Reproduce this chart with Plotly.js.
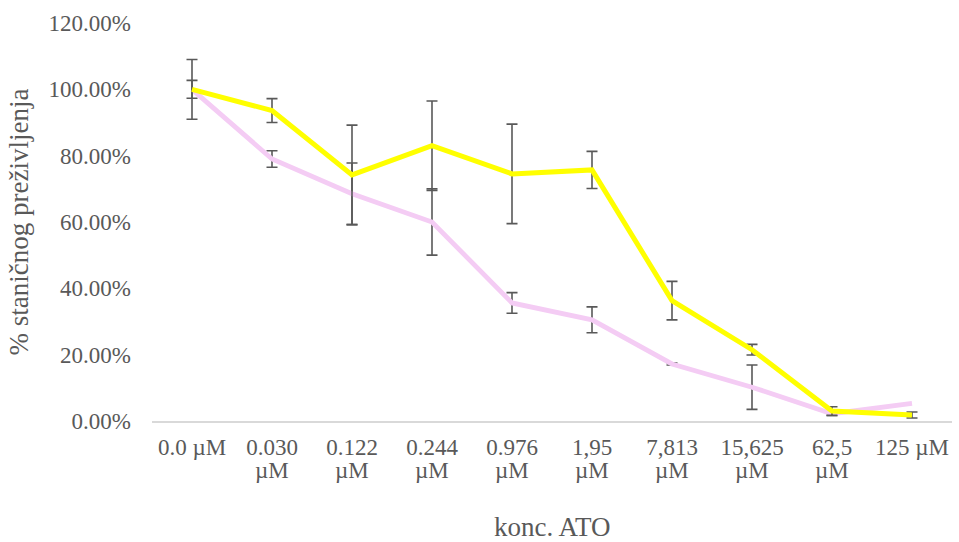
<!DOCTYPE html>
<html>
<head>
<meta charset="utf-8">
<script src="https://cdn.plot.ly/plotly-3.0.1.min.js"></script>
<style>html,body{margin:0;padding:0;background:#fff;}#chart{width:959px;height:542px;}</style>
</head>
<body>
<div id="chart"></div>
<script>
const categories = ['0.0 µM','0.030 µM','0.122 µM','0.244 µM','0.976 µM','1,95 µM','7,813 µM','15,625 µM','62,5 µM','125 µM'];
const tickLine1 = ['0.0 µM','0.030','0.122','0.244','0.976','1,95','7,813','15,625','62,5','125 µM'];
const tickLine2 = ['','µM','µM','µM','µM','µM','µM','µM','µM',''];
const yellowValues = [1.00, 0.936, 0.742, 0.830, 0.745, 0.757, 0.363, 0.215, 0.030, 0.018];
const yellowErrors = [0.090, 0.036, 0.150, 0.135, 0.150, 0.056, 0.058, 0.016, 0.013, 0.009];
const pinkValues = [1.00, 0.790, 0.685, 0.600, 0.356, 0.305, 0.172, 0.102, 0.022, 0.053];
const pinkErrors = [0.027, 0.025, 0.093, 0.100, 0.031, 0.039, 0.003, 0.067, 0.005, NaN];
const yTickVals = [0, 0.2, 0.4, 0.6, 0.8, 1.0, 1.2];
const yTickText = ['0.00%','20.00%','40.00%','60.00%','80.00%','100.00%','120.00%'];
const xTitle = 'konc. ATO';
const yTitle = '% staničnog preživljenja';

const errStyle = (arr) => ({type:'data', array: arr, visible:true, color:'#595959', thickness:1.6, width:5.5});

const traces = [
  {x: categories, y: pinkValues, type:'scatter', mode:'lines', name:'pink',
   line:{color:'#F4CCF4', width:4.8}, error_y: errStyle(pinkErrors), hoverinfo:'skip'},
  {x: categories, y: yellowValues, type:'scatter', mode:'lines', name:'yellow',
   line:{color:'#FFFF00', width:5}, error_y: errStyle(yellowErrors), hoverinfo:'skip'}
];

const font = {family:'"Liberation Serif", "Times New Roman", serif', color:'#595959'};

const annotations = categories.map((c, i) => ({
  x: c, xref:'x', y: 0, yref:'paper', yanchor:'middle', yshift:-49,
  text: tickLine2[i], showarrow:false, font: Object.assign({size:23}, font)
})).filter(a => a.text);
annotations.push({
  x: 0.5, xref:'paper', y: 0, yref:'paper', yanchor:'middle', yshift:-106,
  text: xTitle, showarrow:false, font: Object.assign({size:27}, font)
});

const layout = {
  width:959, height:542,
  margin:{l:152, r:7, t:23, b:121},
  paper_bgcolor:'#fff', plot_bgcolor:'#fff',
  showlegend:false,
  font: Object.assign({size:23}, font),
  annotations: annotations,
  xaxis:{
    type:'category', tickmode:'array', tickvals: categories, ticktext: tickLine1,
    range:[-0.5, 9.5], showgrid:false, zeroline:false,
    showline:true, linecolor:'#D9D9D9', linewidth:1.5, ticks:'',
    tickfont: Object.assign({size:23}, font), ticklabelstandoff:5
  },
  yaxis:{
    range:[0, 1.2], tickmode:'array', tickvals:yTickVals, ticktext:yTickText,
    showgrid:false, zeroline:false, showline:false, ticks:'',
    tickfont: Object.assign({size:23}, font), ticklabelstandoff:20,
    title:{text: yTitle, font: Object.assign({size:27}, font), standoff:12}
  }
};

Plotly.newPlot('chart', traces, layout, {staticPlot:true, displayModeBar:false});
</script>
</body>
</html>
